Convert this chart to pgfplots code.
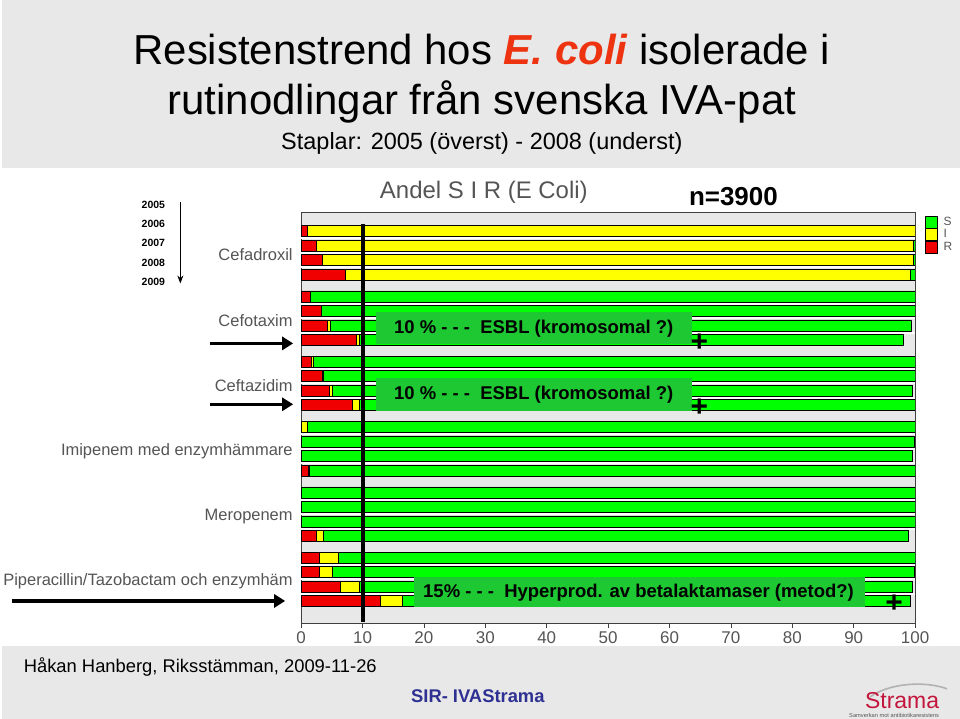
\documentclass[border=0pt]{standalone}
\usepackage{pgfplots}
\pgfplotsset{compat=1.18}
\usepackage{fontspec}
\setmainfont{Liberation Sans}
\usetikzlibrary{arrows.meta}
\definecolor{bggray}{RGB}{232,232,232}
\definecolor{barred}{RGB}{240,0,0}
\definecolor{baryellow}{RGB}{255,255,0}
\definecolor{bargreen}{RGB}{0,255,0}
\definecolor{boxgreen}{RGB}{30,200,50}
\definecolor{labelgray}{RGB}{85,85,85}
\definecolor{titlered}{RGB}{238,51,17}
\definecolor{sirblue}{RGB}{46,49,146}
\definecolor{stramared}{RGB}{196,22,60}
\newcommand{\fs}[1]{\fontsize{#1}{#1}\selectfont}
\begin{document}
\begin{tikzpicture}
\begin{scope}[x=1pt,y=1pt]
\path[fill=white] (0,0) rectangle (960,720);
\useasboundingbox (0,0) rectangle (960,720);
\fill[bggray] (0,552) rectangle (960,720);
\fill[bggray] (0,0) rectangle (960,73);
\end{scope}
\begin{axis}[
  at={(300pt,96pt)}, anchor=south west,
  width=615pt, height=411pt, scale only axis,
  xbar stacked, bar width=0.76,
  xmin=0, xmax=100, ymin=-1.27, ymax=27.0, y dir=reverse,
  axis background/.style={fill=bggray},
  axis line style={black!75, line width=0.8pt},
  xtick={0,10,...,100}, xtick pos=left, tick align=outside,
  major tick length=5pt, xtick style={black!75, line width=0.8pt},
  xticklabel style={font=\fs{17}, text=labelgray},
  /pgf/number format/assume math mode=true,
  ytick={1.5,6,10.5,15,19.5,24},
  yticklabels={Cefadroxil,Cefotaxim,Ceftazidim,Imipenem med enzymhämmare,Meropenem,Piperacillin/Tazobactam och enzymhäm},
  ytick style={draw=none},
  yticklabel style={font=\fs{16.5}, text=labelgray, yshift=-2pt},
  every axis plot post/.append style={legend image code/.code={\draw[##1,draw=black,line width=0.6pt] (0pt,-6pt) rectangle (12pt,6pt);}},
  reverse legend,
  legend style={at={(1.016,0.993)}, anchor=north west, draw=none, fill=none,
    font=\fs{12}, text=labelgray, row sep=0pt, inner sep=0pt,
    nodes={inner sep=1pt},
    /tikz/every odd column/.append style={column sep=5pt}},
  legend cell align=left,
]
\pgfplotsinvokeforeach{0,4.5,9,13.5,18,22.5}{
  \draw[white, line width=2pt] (axis cs:0,#1+0.5) -- (axis cs:100,#1+0.5);
  \draw[white, line width=2pt] (axis cs:0,#1+1.5) -- (axis cs:100,#1+1.5);
  \draw[white, line width=2pt] (axis cs:0,#1+2.5) -- (axis cs:100,#1+2.5);
}
\addplot[fill=barred, draw=black, line width=0.5pt] coordinates {
(1.0,0) (2.4,1) (3.4,2) (7.2,3)
(1.5,4.5) (3.3,5.5) (4.2,6.5) (9.0,7.5)
(1.7,9) (3.4,10) (4.6,11) (8.4,12)
(0,13.5) (0,14.5) (0,15.5) (1.1,16.5)
(0,18) (0,19) (0,20) (2.4,21)
(3.0,22.5) (3.0,23.5) (6.4,24.5) (12.9,25.5)};
\addlegendentry{R}
\addplot[fill=baryellow, draw=black, line width=0.5pt] coordinates {
(99.0,0) (97.3,1) (96.3,2) (92.0,3)
(0,4.5) (0,5.5) (0.6,6.5) (0.5,7.5)
(0.3,9) (0.2,10) (0.4,11) (1.1,12)
(1.0,13.5) (0,14.5) (0,15.5) (0.3,16.5)
(0,18) (0,19) (0,20) (1.2,21)
(3.1,22.5) (2.0,23.5) (3.1,24.5) (3.6,25.5)};
\addlegendentry{I}
\addplot[fill=bargreen, draw=black, line width=0.5pt] coordinates {
(0,0) (0.3,1) (0.3,2) (0.8,3)
(98.5,4.5) (96.7,5.5) (94.5,6.5) (88.5,7.5)
(98.0,9) (96.4,10) (94.5,11) (90.5,12)
(99.0,13.5) (99.8,14.5) (99.5,15.5) (98.6,16.5)
(100,18) (100,19) (100,20) (95.3,21)
(93.9,22.5) (94.9,23.5) (90.1,24.5) (82.7,25.5)};
\addlegendentry{S}
\end{axis}
% overlay axis for the 10 % reference line
\begin{axis}[
  at={(300pt,96pt)}, anchor=south west,
  width=615pt, height=411pt, scale only axis,
  xmin=0, xmax=100, ymin=-1.27, ymax=27.0, y dir=reverse,
  hide axis, clip=false,
]
\addplot[black, line width=4pt, line cap=butt, forget plot] coordinates {(10,-0.52) (10,26.95)};
\end{axis}
\begin{scope}[x=1pt, y=-1pt, shift={(0pt,720pt)}]
% titles
\node[anchor=base, inner sep=0pt] at (481,65) {\fs{42}Resistenstrend hos \textcolor{titlered}{\bfseries\itshape E. coli} isolerade i};
\node[anchor=base, inner sep=0pt] at (481,115) {\fs{42}rutinodlingar från svenska IVA-pat};
\node[anchor=base, inner sep=0pt] at (481,150) {\fs{23.5}Staplar: 2005 (överst) - 2008 (underst)};
% chart header
\node[anchor=base, inner sep=0pt, text=labelgray] at (483,199) {\fs{24}Andel S I R (E Coli)};
\node[anchor=base, inner sep=0pt] at (733,206) {\fs{26}\bfseries n=3900};
% years
\foreach \yr/\yy in {2005/205.5,2006/224.5,2007/243.5,2008/263,2009/282}
  \node[inner sep=0pt] at (152,\yy) {\fs{10.5}\bfseries \yr};
\draw[line width=0.9pt, -{Stealth[length=8pt,width=6pt]}] (179,202) -- (179,284);
% thick arrows
\draw[line width=3.5pt, -{Triangle[length=11pt,width=13pt]}] (209,344) -- (292,344);
\draw[line width=3.5pt, -{Triangle[length=11pt,width=13pt]}] (209,405) -- (292,405);
\draw[line width=3.5pt, -{Triangle[length=11pt,width=13pt]}] (10,602) -- (284,602);
% annotation boxes
\fill[boxgreen] (375,313) rectangle (692,345);
\node[inner sep=0pt] at (533,329.5) {\fs{18.5}\bfseries 10 \% - - -\ \ ESBL (kromosomal ?)};
\fill[boxgreen] (375,379) rectangle (692,412);
\node[inner sep=0pt] at (533,395.5) {\fs{18.5}\bfseries 10 \% - - -\ \ ESBL (kromosomal ?)};
\fill[boxgreen] (413,578) rectangle (865,608);
\node[inner sep=0pt] at (638,593.5) {\fs{18.5}\bfseries 15\% - - -\ \ Hyperprod. av betalaktamaser (metod?)};
\node[inner sep=0pt] at (699,343) {\fs{30}\bfseries +};
\node[inner sep=0pt] at (699,408) {\fs{30}\bfseries +};
\node[inner sep=0pt] at (894,605) {\fs{30}\bfseries +};
% footer
\node[anchor=base west, inner sep=0pt] at (22,674) {\fs{18.4}Håkan Hanberg, Riksstämman, 2009-11-26};
\node[anchor=base west, inner sep=0pt, text=sirblue] at (410,704) {\fs{18.4}\bfseries SIR- IVAStrama};
\draw[gray!60, line width=1.6pt] (870,698) .. controls (890,684) and (925,682) .. (947,690);
\node[anchor=base, inner sep=0pt, text=stramared] at (902,710) {\fs{23}Strama};
\node[anchor=base, inner sep=0pt, text=labelgray] at (894,718.5) {\fs{5.7}Samverkan mot antibiotikaresistens};
\end{scope}
\end{tikzpicture}
\end{document}
